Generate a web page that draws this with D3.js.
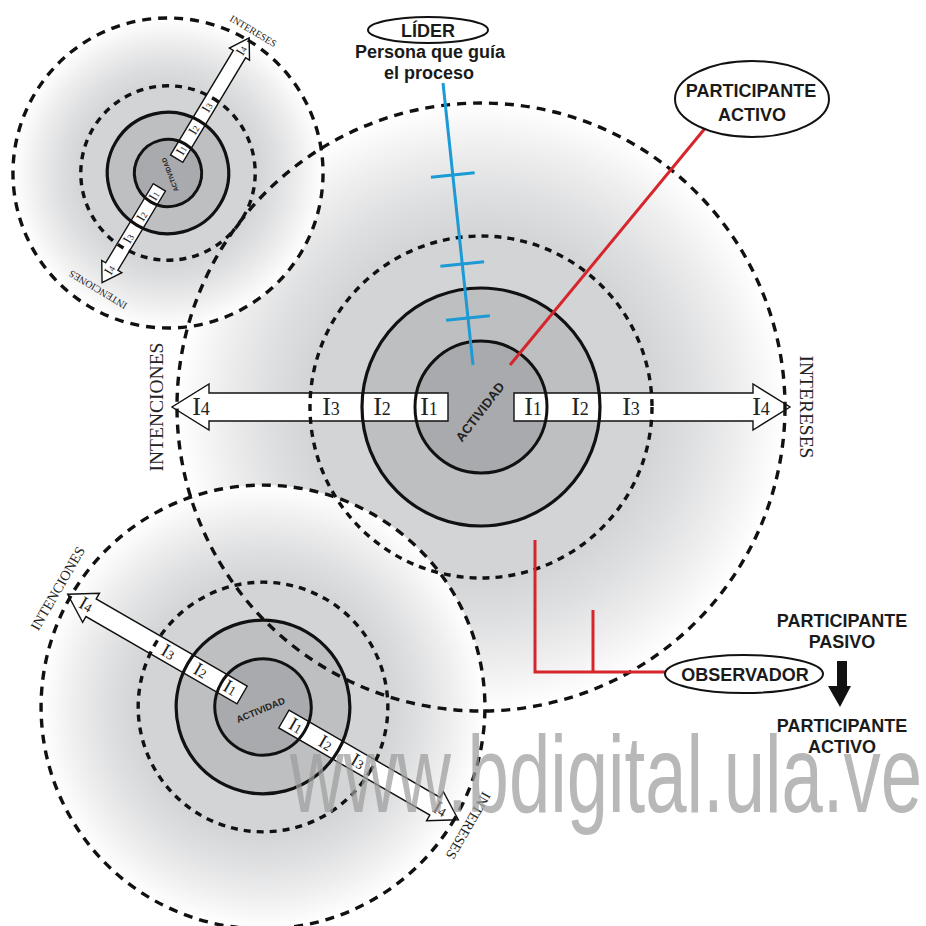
<!DOCTYPE html>
<html>
<head>
<meta charset="utf-8">
<script src="https://cdn.jsdelivr.net/npm/d3@7"></script>
<style>
  body { margin: 0; background: #fff; }
</style>
</head>
<body>
<div id="chart"></div>
<script>
// grupos de circulos: principal, arriba a la izquierda, abajo a la izquierda
var grupos = ['principal', 'superior', 'inferior'];
var centroX = [481, 168, 263];
var centroY = [407, 173, 707];
var escala = [1, 0.51, 0.73];
var giro = [0, -59, 30];
var puntaIzq = [309, 251, 309];   // hasta donde llega la flecha de INTENCIONES
var puntaDer = [309, 309, 309];   // hasta donde llega la flecha de INTERESES

// radios de los anillos del grupo principal (actividad, solido, punteado, externo)
var anillos = [66, 119, 171, 304];
var niveles = ['1', '2', '3', '4'];
var distNivel = [52, 99, 150, 280];
var ejes = ['INTENCIONES', 'INTERESES'];

// lineas de rol
var marcasLider = [175, 264, 318];
var textoLider = ['Persona que guía', 'el proceso'];
var textoPasivo = ['PARTICIPANTE', 'PASIVO'];
var textoActivo = ['PARTICIPANTE', 'ACTIVO'];

var svg = d3.select('#chart')
  .append('svg')
  .attr('width', 926)
  .attr('height', 926);

// degradado del anillo externo
var grad = svg.append('defs').append('radialGradient').attr('id', 'halo');
[[0, '#d3d4d6'], [0.5625, '#d3d4d6'], [0.7, '#dedfe0'], [0.85, '#eeeeef'], [1, '#ffffff']]
  .forEach(function(s) {
    grad.append('stop').attr('offset', s[0]).attr('stop-color', s[1]);
  });

var capaFondo = svg.append('g');
var capaFlechas = svg.append('g');
var capaTrazos = svg.append('g');
var capaTextos = svg.append('g');

var serif = '"Liberation Serif", "Times New Roman", serif';
var sans = '"Liberation Sans", Arial, sans-serif';

grupos.forEach(function(nombre, i) {
  var k = escala[i];
  var r = d3.scaleLinear().domain([0, anillos[3]]).range([0, anillos[3] * k]);
  var tr = 'translate(' + centroX[i] + ',' + centroY[i] + ') rotate(' + giro[i] + ')';

  // rellenos
  var f = capaFondo.append('g').attr('transform', tr);
  f.append('circle').attr('r', r(anillos[3])).attr('fill', 'url(#halo)');
  f.append('circle').attr('r', r(anillos[1])).attr('fill', '#bebfc1');
  f.append('circle').attr('r', r(anillos[0])).attr('fill', '#a9aaad');

  // flechas
  var fl = capaFlechas.append('g').attr('transform', tr);
  var h = r(14), H = r(23), largoCabeza = r(37), ini = r(33);
  [-1, 1].forEach(function(lado) {
    var t = r(lado < 0 ? puntaIzq[i] : puntaDer[i]);
    var b = t - largoCabeza;
    var pts = [[ini, -h], [b, -h], [b, -H], [t, 0], [b, H], [b, h], [ini, h]]
      .map(function(p) { return [p[0] * lado, p[1]]; });
    fl.append('path')
      .attr('d', d3.line()(pts) + 'Z')
      .attr('fill', '#fff')
      .attr('stroke', '#111')
      .attr('stroke-width', 1.4);
  });

  // trazos de los anillos
  var c = capaTrazos.append('g').attr('transform', tr).attr('fill', 'none').attr('stroke', '#111');
  c.append('circle').attr('r', r(anillos[0])).attr('stroke-width', 3);
  c.append('circle').attr('r', r(anillos[1])).attr('stroke-width', 3.2);
  c.append('circle').attr('r', r(anillos[2])).attr('stroke-width', 3.4).attr('stroke-dasharray', '7,6');
  c.append('circle').attr('r', r(anillos[3])).attr('stroke-width', 3.4).attr('stroke-dasharray', '9,7');

  // textos
  var tx = capaTextos.append('g').attr('transform', tr).attr('fill', '#222');
  [-1, 1].forEach(function(lado) {
    var punta = lado < 0 ? puntaIzq[i] : puntaDer[i];
    niveles.forEach(function(n, j) {
      var d = j === 3 ? punta - 29 : distNivel[j];
      var t = tx.append('text')
        .attr('x', r(d) * lado)
        .attr('y', r(8))
        .attr('text-anchor', 'middle')
        .style('font-family', serif);
      t.append('tspan').style('font-size', (26 * k) + 'px').text('I');
      t.append('tspan').style('font-size', (18 * k) + 'px').text(n);
    });
    tx.append('text')
      .attr('transform', 'translate(' + (r(punta + 16) * lado) + ',0) rotate(' + (90 * lado) + ')')
      .attr('text-anchor', 'middle')
      .attr('dominant-baseline', 'central')
      .style('font-family', serif)
      .style('font-size', (19.5 * k) + 'px')
      .text(ejes[lado < 0 ? 0 : 1]);
  });
  tx.append('text')
    .attr('transform', 'translate(' + r(-1) + ',' + r(5) + ') rotate(-52.5)')
    .attr('text-anchor', 'middle')
    .attr('dominant-baseline', 'central')
    .style('font-family', sans)
    .style('font-weight', 'bold')
    .style('font-size', (13 * k) + 'px')
    .text('ACTIVIDAD');
});

// linea del lider
var notas = svg.append('g');
var lx = d3.scaleLinear().domain([83, 365]).range([443, 473]);
notas.append('line')
  .attr('x1', lx(83)).attr('y1', 83).attr('x2', lx(365)).attr('y2', 365)
  .attr('stroke', '#1b9ad6').attr('stroke-width', 3);
var ang = Math.atan2(282, 30) - Math.PI / 2;
notas.selectAll('.marca')
  .data(marcasLider)
  .enter()
  .append('line')
  .attr('class', 'marca')
  .attr('x1', function(d) { return lx(d) - 22 * Math.cos(ang); })
  .attr('y1', function(d) { return d - 22 * Math.sin(ang); })
  .attr('x2', function(d) { return lx(d) + 22 * Math.cos(ang); })
  .attr('y2', function(d) { return d + 22 * Math.sin(ang); })
  .attr('stroke', '#1b9ad6').attr('stroke-width', 3);

// lineas rojas
notas.append('line')
  .attr('x1', 510).attr('y1', 365).attr('x2', 716).attr('y2', 115)
  .attr('stroke', '#d6262c').attr('stroke-width', 3);
notas.append('path')
  .attr('d', 'M535,540V672H668M593,610V672')
  .attr('fill', 'none')
  .attr('stroke', '#d6262c').attr('stroke-width', 3);

// elipses
function elipse(cx, cy, rx, ry) {
  notas.append('ellipse')
    .attr('cx', cx).attr('cy', cy).attr('rx', rx).attr('ry', ry)
    .attr('fill', '#fff').attr('stroke', '#111').attr('stroke-width', 2);
}
function rotulo(x, y, size, txt) {
  notas.append('text')
    .attr('x', x).attr('y', y)
    .attr('text-anchor', 'middle')
    .style('font-family', sans)
    .style('font-weight', 'bold')
    .style('font-size', size + 'px')
    .attr('fill', '#1a1a1a')
    .text(txt);
}
elipse(428, 30, 60, 13);
rotulo(428, 37, 18, 'LÍDER');
rotulo(430, 58, 18, textoLider[0]);
rotulo(429, 79, 18, textoLider[1]);

elipse(752, 99, 77, 38);
rotulo(751, 97, 18, textoActivo[0]);
rotulo(752, 121, 18, textoActivo[1]);

elipse(744, 674, 79, 19);
rotulo(745, 681, 18, 'OBSERVADOR');

rotulo(842, 627, 18, textoPasivo[0]);
rotulo(842, 648, 18, textoPasivo[1]);
notas.append('path')
  .attr('d', 'M837,661H847V686H851L840,707L828,686H837Z')
  .attr('fill', '#111');
rotulo(842, 732, 18, textoActivo[0]);
rotulo(842, 753, 18, textoActivo[1]);

// marca de agua
svg.append('text')
  .attr('x', 290)
  .attr('y', 812)
  .attr('textLength', 632)
  .attr('lengthAdjust', 'spacingAndGlyphs')
  .style('font-family', sans)
  .style('font-size', '110px')
  .attr('fill', '#9d9d9d')
  .attr('opacity', 0.72)
  .text('www.bdigital.ula.ve');
</script>
</body>
</html>
